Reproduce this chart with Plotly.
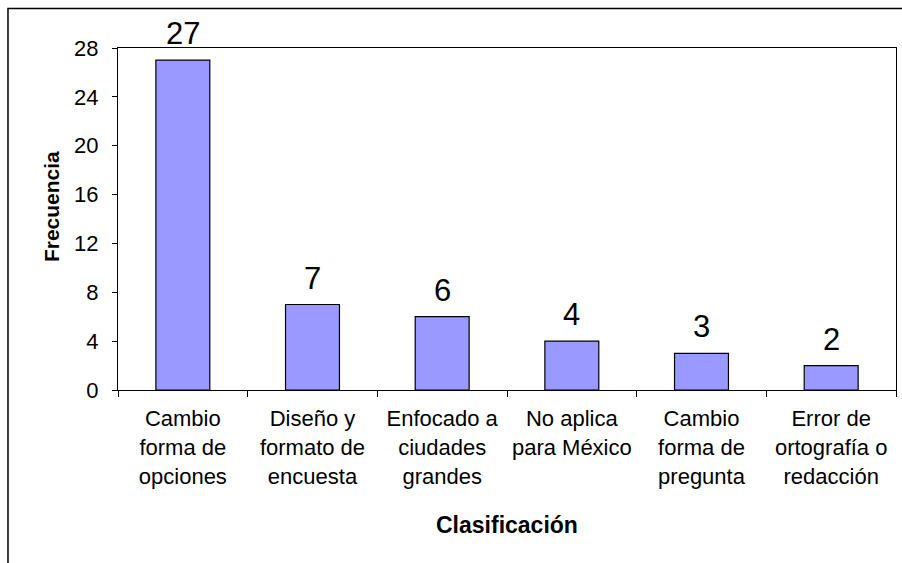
import plotly.graph_objects as go

categories = [
    "Cambio<br>forma de<br>opciones",
    "Diseño y<br>formato de<br>encuesta",
    "Enfocado a<br>ciudades<br>grandes",
    "No aplica<br>para México",
    "Cambio<br>forma de<br>pregunta",
    "Error de<br>ortografía o<br>redacción",
]
values = [27, 7, 6, 4, 3, 2]
y_ticks = [0, 4, 8, 12, 16, 20, 24, 28]

FONT = "'Liberation Sans', Arial, sans-serif"

fig = go.Figure()
fig.add_trace(go.Bar(
    x=categories, y=values,
    marker=dict(color="#9999FF", line=dict(color="black", width=1.2)),
    hoverinfo="skip",
))

for c, v in zip(categories, values):
    fig.add_annotation(x=c, y=v, xref="x", yref="y", text=str(v),
                       showarrow=False, yanchor="bottom", yshift=7,
                       font=dict(family=FONT, size=31, color="black"))

fig.add_annotation(x=-0.086, y=0.535, xref="paper", yref="paper",
                   text="<b>Frecuencia</b>", textangle=-90, showarrow=False,
                   xanchor="center", yanchor="middle",
                   font=dict(family=FONT, size=21, color="black"))
fig.add_annotation(x=0.5, y=-0.395, xref="paper", yref="paper",
                   text="<b>Clasificación</b>", showarrow=False,
                   xanchor="center", yanchor="middle",
                   font=dict(family=FONT, size=23, color="black"))

# outer chart frame
fig.add_shape(type="rect", xref="paper", yref="paper",
              x0=-0.1414, x1=1.02, y0=-0.6, y1=1.1155,
              line=dict(color="black", width=1.5), fillcolor="rgba(0,0,0,0)",
              layer="below")

fig.update_layout(
    width=902, height=563,
    margin=dict(l=118, r=6, t=48, b=173, autoexpand=False),
    paper_bgcolor="white", plot_bgcolor="white",
    bargap=0.584,
    showlegend=False,
    font=dict(family=FONT, color="black"),
    xaxis=dict(
        showline=True, linecolor="black", linewidth=1, mirror=True,
        ticks="outside", ticklen=6, tickcolor="black", tickson="boundaries",
        tickfont=dict(family=FONT, size=22, color="black"),
        tickangle=0, automargin=False,
        ticklabelstandoff=9,
        showgrid=False, fixedrange=True,
    ),
    yaxis=dict(
        range=[0, 28], tickvals=y_ticks,
        showline=True, linecolor="black", linewidth=1, mirror=True,
        ticks="outside", ticklen=5, tickcolor="black",
        tickfont=dict(family=FONT, size=22, color="black"),
        ticklabelstandoff=9, automargin=False,
        showgrid=False, zeroline=False, fixedrange=True,
    ),
)

fig.write_html("out.html")
